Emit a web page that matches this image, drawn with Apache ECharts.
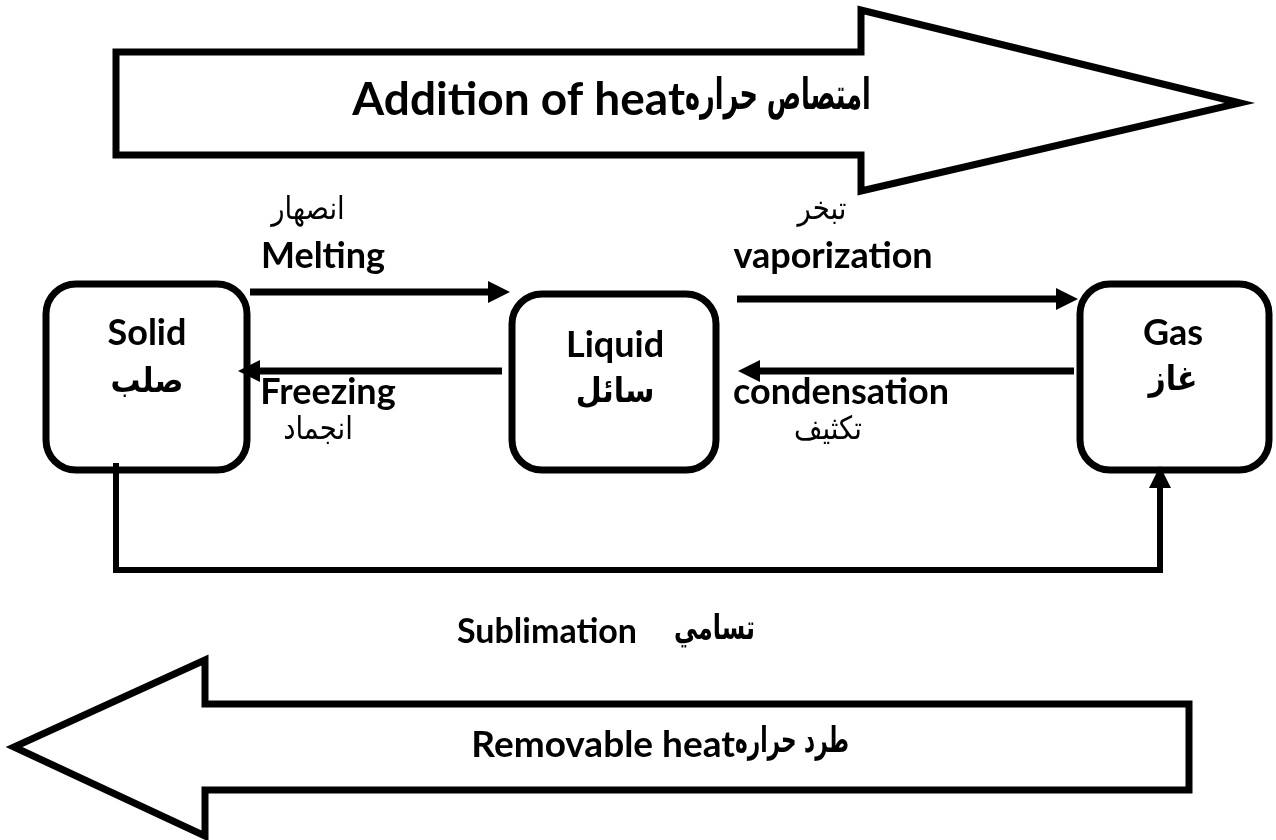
<!DOCTYPE html>
<html>
<head>
<meta charset="utf-8">
<script src="https://cdn.jsdelivr.net/npm/echarts@6/dist/echarts.min.js"></script>
<style>
  html, body { margin: 0; padding: 0; background: #fff; }
  #chart { width: 1276px; height: 840px; }
</style>
</head>
<body>
<div id="chart"></div>
<script>
// states of matter
const states = ["Solid", "Liquid", "Gas"];
const statesAr = ["صلب", "سائل", "غاز"];
// changes between neighbouring states
const changes = ["Melting", "Freezing", "vaporization", "condensation"];
const changesAr = ["انصهار", "انجماد", "تبخر", "تكثيف"];
const sublimation = ["Sublimation", "تسامي"];
// heat flow
const heatLabels = ["Addition of heat", "Removable heat"];
const heatAr = ["امتصاص حراره", "طرد حراره"];

// layout, in page pixels (the hidden axes run 0..1276 and 0..840)
// shaft start x, head base x, shaft top, shaft bottom, head top, head bottom, tip x, tip y
const heatArrowGeo = [
  [116, 861, 52, 155, 10, 191, 1240, 103],
  [1189, 205, 704, 790, 660, 836, 14, 747],
];
// x where english ends and arabic starts, y, english font size, arabic size, arabic squeeze
const heatTextPos = [[685, 100, 46, 44, 0.58], [735, 745, 37, 36, 0.6]];
const boxGeo = [
  [46, 284, 247, 470],
  [512, 294, 716, 470],
  [1080, 284, 1269, 470],
];
const stateTextPos = [[147, 333, 383], [615, 345, 393], [1173, 333, 381]];
const changeArrowGeo = [
  [250, 292, 510, 292],
  [502, 371, 238, 371],
  [737, 299, 1078, 299],
  [1074, 371, 738, 371],
];
// english x, y, arabic x, y
const changeTextPos = [
  [323, 256, 308, 211],
  [328, 392, 318, 431],
  [833, 256, 822, 211],
  [841, 392, 828, 431],
];
const sublimationPath = [[116, 463], [116, 570], [1160, 570], [1160, 466]];
const sublimationTextPos = [[637, 632], [674, 630]];

const EN = "Lato, 'DejaVu Sans', sans-serif";
const AR = "'DejaVu Sans', sans-serif";
const EN_BOLD = "bold 36px " + EN;
const AR_REG = "32px " + AR;
const AR_BOLD = "bold 34px " + AR;
const HEAD = 22; // arrow head length
const HALF = 11; // arrow head half width

function txt(api, x, y, text, font, align, sx) {
  const p = api.coord([x, y]);
  return {
    type: "text",
    x: p[0],
    y: p[1],
    scaleX: sx || 1,
    style: { text: text, font: font, fill: "#000", align: align || "center", verticalAlign: "middle" },
  };
}

// straight or bent arrow with a filled triangular head at the end
function arrow(api, pts, width) {
  const px = pts.map((q) => api.coord(q));
  const a = px[px.length - 2];
  const b = px[px.length - 1];
  const len = Math.hypot(b[0] - a[0], b[1] - a[1]);
  const ux = (b[0] - a[0]) / len, uy = (b[1] - a[1]) / len;
  const base = [b[0] - ux * HEAD, b[1] - uy * HEAD];
  const line = px.slice(0, -1).concat([base]);
  return [
    {
      type: "polyline",
      shape: { points: line },
      style: { stroke: "#000", lineWidth: width, fill: null, lineJoin: "miter", lineCap: "butt" },
    },
    {
      type: "polygon",
      shape: {
        points: [
          b,
          [base[0] - uy * HALF, base[1] + ux * HALF],
          [base[0] + uy * HALF, base[1] - ux * HALF],
        ],
      },
      style: { fill: "#000" },
    },
  ];
}

const chart = echarts.init(document.getElementById("chart"));

const option = {
  animation: false,
  grid: { left: 0, right: 0, top: 0, bottom: 0 },
  xAxis: { type: "value", min: 0, max: 1276, show: false },
  yAxis: { type: "value", min: 0, max: 840, inverse: true, show: false },
  series: [
    {
      name: "heat",
      type: "custom",
      clip: false,
      data: heatArrowGeo.map((g, i) => [g[6], g[7], i]),
      renderItem: function (params, api) {
        const i = api.value(2);
        const g = heatArrowGeo[i];
        const t = heatTextPos[i];
        const pts = [
          [g[0], g[2]], [g[1], g[2]], [g[1], g[4]], [g[6], g[7]],
          [g[1], g[5]], [g[1], g[3]], [g[0], g[3]],
        ].map((q) => api.coord(q));
        return {
          type: "group",
          children: [
            {
              type: "polygon",
              shape: { points: pts },
              style: { fill: "#fff", stroke: "#000", lineWidth: 7, lineJoin: "miter" },
            },
            txt(api, t[0], t[1], heatLabels[i], "bold " + t[2] + "px " + EN, "right"),
            txt(api, t[0], t[1] - 2, heatAr[i], "bold " + t[3] + "px " + AR, "left", t[4]),
          ],
        };
      },
    },
    {
      name: "states",
      type: "custom",
      clip: false,
      data: boxGeo.map((g, i) => [g[0], g[1], i]),
      renderItem: function (params, api) {
        const i = api.value(2);
        const g = boxGeo[i];
        const p0 = api.coord([g[0], g[1]]);
        const p1 = api.coord([g[2], g[3]]);
        const t = stateTextPos[i];
        return {
          type: "group",
          children: [
            {
              type: "rect",
              shape: { x: p0[0], y: p0[1], width: p1[0] - p0[0], height: p1[1] - p0[1], r: 30 },
              style: { fill: null, stroke: "#000", lineWidth: 7 },
            },
            txt(api, t[0], t[1], states[i], EN_BOLD),
            txt(api, t[0], t[2], statesAr[i], AR_BOLD, "center", 0.88),
          ],
        };
      },
    },
    {
      name: "changes",
      type: "custom",
      clip: false,
      data: changeArrowGeo.map((g, i) => [g[0], g[1], i]),
      renderItem: function (params, api) {
        const i = api.value(2);
        const g = changeArrowGeo[i];
        const t = changeTextPos[i];
        return {
          type: "group",
          children: arrow(api, [[g[0], g[1]], [g[2], g[3]]], 7).concat([
            txt(api, t[0], t[1], changes[i], EN_BOLD),
            txt(api, t[2], t[3], changesAr[i], AR_REG, "center", 0.86),
          ]),
        };
      },
    },
    {
      name: "sublimation",
      type: "custom",
      clip: false,
      data: [[sublimationPath[0][0], sublimationPath[0][1], 0]],
      renderItem: function (params, api) {
        return {
          type: "group",
          children: arrow(api, sublimationPath, 6).concat([
            txt(api, sublimationTextPos[0][0], sublimationTextPos[0][1], sublimation[0], "bold 34px " + EN, "right"),
            txt(api, sublimationTextPos[1][0], sublimationTextPos[1][1], sublimation[1], AR_BOLD, "left", 0.7),
          ]),
        };
      },
    },
  ],
};

chart.setOption(option);
</script>
</body>
</html>
